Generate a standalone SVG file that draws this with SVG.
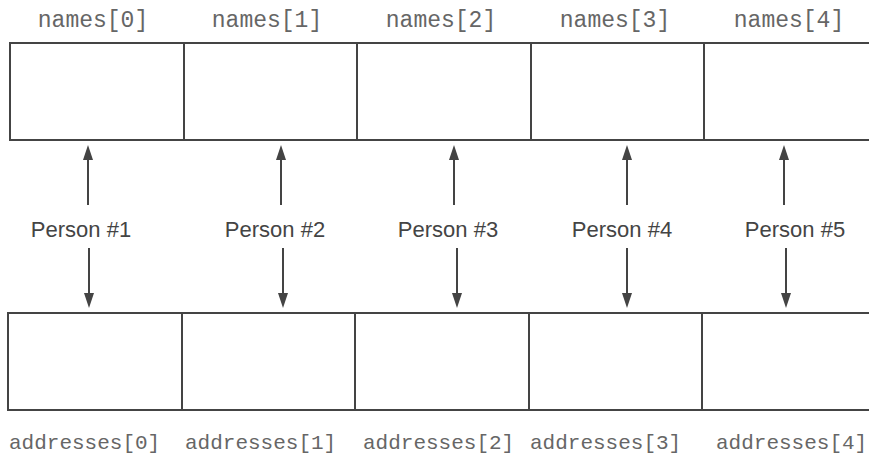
<svg xmlns="http://www.w3.org/2000/svg" width="869" height="454" viewBox="0 0 869 454">
<style>
.cell{fill:#fff;stroke:#444;stroke-width:2}
.mono{font-family:"Liberation Mono","Courier New",monospace;fill:#666}
.nm{font-size:23px;text-anchor:middle}
.ad{font-size:21px}
.lbl{font-family:"Liberation Sans",Arial,sans-serif;font-size:22px;fill:#444;text-anchor:middle}
.arr{stroke:#444;stroke-width:2;fill:none;marker-end:url(#ah)}
</style>
<defs>
<marker id="ah" markerUnits="userSpaceOnUse" markerWidth="16" markerHeight="10" refX="10" refY="5" orient="auto">
<path d="M0,0 L15,5 L0,10 z" fill="#444"/>
</marker>
</defs>
<rect width="869" height="454" fill="#fff"/>
<g id="names">
<g id="names0"><rect class="cell" x="10" y="43" width="174" height="97"/><text class="mono nm" x="93" y="27">names[0]</text></g>
<g id="names1"><rect class="cell" x="184" y="43" width="173" height="97"/><text class="mono nm" x="267" y="27">names[1]</text></g>
<g id="names2"><rect class="cell" x="357" y="43" width="174" height="97"/><text class="mono nm" x="441" y="27">names[2]</text></g>
<g id="names3"><rect class="cell" x="531" y="43" width="173" height="97"/><text class="mono nm" x="615" y="27">names[3]</text></g>
<g id="names4"><rect class="cell" x="704" y="43" width="180" height="97"/><text class="mono nm" x="789" y="27">names[4]</text></g>
</g>
<g id="addresses">
<g id="addr0"><rect class="cell" x="8" y="313" width="174" height="97"/><text class="mono ad" x="9" y="449">addresses[0]</text></g>
<g id="addr1"><rect class="cell" x="182" y="313" width="173" height="97"/><text class="mono ad" x="185" y="449">addresses[1]</text></g>
<g id="addr2"><rect class="cell" x="355" y="313" width="174" height="97"/><text class="mono ad" x="363" y="449">addresses[2]</text></g>
<g id="addr3"><rect class="cell" x="529" y="313" width="173" height="97"/><text class="mono ad" x="530" y="449">addresses[3]</text></g>
<g id="addr4"><rect class="cell" x="702" y="313" width="180" height="97"/><text class="mono ad" x="716" y="449">addresses[4]</text></g>
</g>
<g id="persons">
<g id="person1"><text class="lbl" x="81" y="237">Person #1</text></g>
<g id="person2"><text class="lbl" x="275" y="237">Person #2</text></g>
<g id="person3"><text class="lbl" x="448" y="237">Person #3</text></g>
<g id="person4"><text class="lbl" x="622" y="237">Person #4</text></g>
<g id="person5"><text class="lbl" x="795" y="237">Person #5</text></g>
</g>
<g id="connectors">
<line class="arr" x1="88" y1="205" x2="88" y2="150"/>
<line class="arr" x1="281" y1="205" x2="281" y2="150"/>
<line class="arr" x1="454" y1="205" x2="454" y2="150"/>
<line class="arr" x1="627" y1="205" x2="627" y2="150"/>
<line class="arr" x1="784" y1="205" x2="784" y2="150"/>
<line class="arr" x1="89" y1="248" x2="89" y2="303"/>
<line class="arr" x1="283" y1="248" x2="283" y2="303"/>
<line class="arr" x1="457" y1="248" x2="457" y2="303"/>
<line class="arr" x1="627" y1="248" x2="627" y2="303"/>
<line class="arr" x1="786" y1="248" x2="786" y2="303"/>
</g>
</svg>
